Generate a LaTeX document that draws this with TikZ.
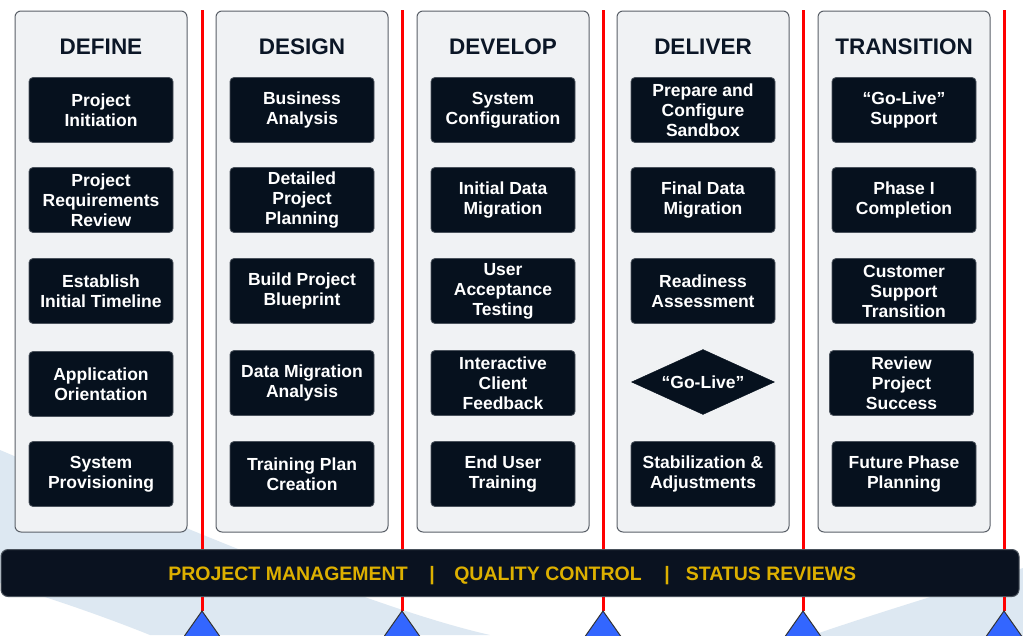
\documentclass[tikz,border=0pt]{standalone}
\usepackage{fontspec}
\setmainfont{Liberation Sans}
\usetikzlibrary{shapes.geometric}
\definecolor{panelfill}{HTML}{F0F2F4}
\definecolor{panelline}{HTML}{5A6068}
\definecolor{navy}{HTML}{06111E}
\definecolor{boxline}{HTML}{4A525C}
\definecolor{barfill}{HTML}{0A1220}
\definecolor{gold}{HTML}{DDB000}
\definecolor{swoosh}{HTML}{DDE8F2}
\definecolor{trifill}{HTML}{3366FF}
\definecolor{hdr}{HTML}{0B1626}
\definecolor{redln}{HTML}{FF0000}
\begin{document}
\begin{tikzpicture}[x=1pt,y=-1pt,
  panel/.style={draw=panelline, fill=panelfill, line width=1pt, rounded corners=6pt,
    minimum width=172pt, minimum height=521pt, inner sep=0pt},
  header/.style={text=hdr, font=\bfseries\fontsize{22.5}{26}\selectfont, inner sep=0pt},
  taskbox/.style={draw=boxline, fill=navy, line width=0.8pt, rounded corners=4pt,
    minimum width=144pt, minimum height=65pt, inner sep=0pt, text=white,
    font=\bfseries\fontsize{17.5}{20}\selectfont, align=center},
  milestone/.style={diamond, shape aspect=2.2, draw=navy, fill=navy, minimum width=143pt,
    minimum height=65pt, inner sep=0pt, text=white, font=\bfseries\fontsize{17.5}{20}\selectfont},
  redline/.style={draw=redln, line width=3pt},
  marker/.style={fill=trifill, draw=black!80, line width=1pt},
  bar/.style={draw=boxline, fill=barfill, line width=1pt, rounded corners=7pt,
    minimum width=1018pt, minimum height=47pt, inner sep=0pt},
  bartext/.style={text=gold, font=\bfseries\fontsize{19.5}{22}\selectfont, inner sep=0pt, anchor=base}
]
\useasboundingbox (0,0) rectangle (1023,635);
\clip (0,0) rectangle (1023,635);
\fill[white] (0,0) rectangle (1023,635);

% background swoosh
\fill[swoosh] (0,450) .. controls (200,535) and (380,610) .. (490,635) -- (150,635)
  .. controls (100,615) and (50,598) .. (0,583) -- cycle;
\fill[swoosh] (813,635) .. controls (880,612) and (960,588) .. (1023,568) -- (1023,640) -- (813,640) -- cycle;

% red timeline lines and markers
\foreach \i/\x in {1/202,2/402,3/603,4/803,5/1004}{
  \coordinate (top\i) at (\x,10);
  \coordinate (apex\i) at (\x,611);
  \draw[redline] (top\i) -- (apex\i);
  \filldraw[marker] (apex\i) -- ++(26,37) -- ++(-52,0) -- cycle;
}

% panels
\node[panel] (p1) at (101,271.5) {};
\node[panel] (p2) at (302,271.5) {};
\node[panel] (p3) at (503,271.5) {};
\node[panel] (p4) at (703,271.5) {};
\node[panel] (p5) at (904,271.5) {};

% headers
\node[header] (h1) at (101,47) {DEFINE};
\node[header] (h2) at (302,47) {DESIGN};
\node[header] (h3) at (503,47) {DEVELOP};
\node[header] (h4) at (703,47) {DELIVER};
\node[header] (h5) at (904,47) {TRANSITION};

% DEFINE
\node[taskbox] (a1) at (101,110) {Project\\Initiation};
\node[taskbox] (a2) at (101,200) {Project\\Requirements\\Review};
\node[taskbox] (a3) at (101,291) {Establish\\Initial Timeline};
\node[taskbox] (a4) at (101,384) {Application\\Orientation};
\node[taskbox] (a5) at (101,474) {System\\Provisioning};

% DESIGN
\node[taskbox] (b1) at (302,110) {Business\\Analysis};
\node[taskbox] (b2) at (302,200) {Detailed\\Project\\Planning};
\node[taskbox] (b3) at (302,291) {Build Project\\Blueprint};
\node[taskbox] (b4) at (302,383) {Data Migration\\Analysis};
\node[taskbox] (b5) at (302,474) {Training Plan\\Creation};

% DEVELOP
\node[taskbox] (c1) at (503,110) {System\\Configuration};
\node[taskbox] (c2) at (503,200) {Initial Data\\Migration};
\node[taskbox] (c3) at (503,291) {User\\Acceptance\\Testing};
\node[taskbox] (c4) at (503,383) {Interactive\\Client\\Feedback};
\node[taskbox] (c5) at (503,474) {End User\\Training};

% DELIVER
\node[taskbox] (d1) at (703,110) {Prepare and\\Configure\\Sandbox};
\node[taskbox] (d2) at (703,200) {Final Data\\Migration};
\node[taskbox] (d3) at (703,291) {Readiness\\Assessment};
\node[milestone] (d4) at (703,382) {“Go-Live”};
\node[taskbox] (d5) at (703,474) {Stabilization \&\\Adjustments};

% TRANSITION
\node[taskbox] (e1) at (904,110) {“Go-Live”\\Support};
\node[taskbox] (e2) at (904,200) {Phase I\\Completion};
\node[taskbox] (e3) at (904,291) {Customer\\Support\\Transition};
\node[taskbox] (e4) at (901.5,383) {Review\\Project\\Success};
\node[taskbox] (e5) at (904,474) {Future Phase\\Planning};

% bottom bar
\node[bar] (bar) at (510,573) {};
\node[bartext] (pm) at (288,580) {PROJECT MANAGEMENT};
\node[bartext] (s1) at (432,580) {|};
\node[bartext] (qc) at (548,580) {QUALITY CONTROL};
\node[bartext] (s2) at (667,580) {|};
\node[bartext] (sr) at (771,580) {STATUS REVIEWS};
\end{tikzpicture}
\end{document}
